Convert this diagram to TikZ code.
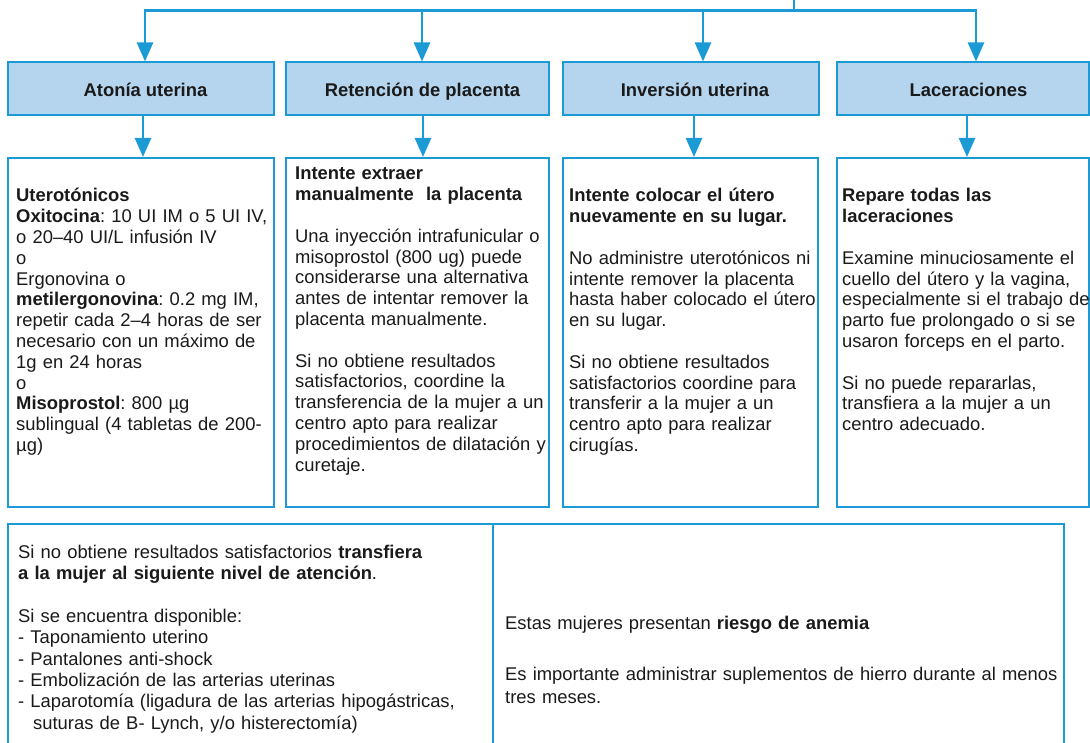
\documentclass[tikz,border=0pt]{standalone}
\usepackage{fontspec}
\setmainfont{Liberation Sans}
\usetikzlibrary{arrows.meta}
\definecolor{lineblue}{HTML}{1B9AD6}
\definecolor{fillblue}{HTML}{B5D5EF}
\definecolor{ink}{HTML}{1A1A1A}
\frenchspacing
\begin{document}
\begin{tikzpicture}[x=1pt,y=-1pt,
  conn/.style={draw=lineblue, line width=2.6pt},
  arr/.style={conn, -{Triangle[width=16pt,length=19pt]}},
  hbox/.style={draw=lineblue, fill=fillblue, line width=2pt, anchor=north west,
    minimum height=53pt, inner sep=0pt, text height=16pt, text depth=0pt,
    font=\fontsize{18.4}{20.8}\selectfont\bfseries, text=ink},
  cbox/.style={draw=lineblue, line width=2pt, anchor=north west, inner sep=0pt},
  txt/.style={anchor=base west, inner sep=0pt, align=left, text width=#1,
    font=\fontsize{18.4}{20.8}\selectfont\frenchspacing, text=ink},
]
\useasboundingbox (0,0) rectangle (1090,743);
\fill[white] (0,0) rectangle (1090,743);
\clip (0,0) rectangle (1090,743);

% header boxes
\node[hbox, minimum width=266pt] (h1) at (7,61.5) {\hspace*{9pt}Atonía uterina};
\node[hbox, minimum width=263pt] (h2) at (285,61.5) {\hspace*{10pt}Retención de placenta};
\node[hbox, minimum width=256pt] (h3) at (562,61.5) {\hspace*{8pt}Inversión uterina};
\node[hbox, minimum width=252pt] (h4) at (836,61.5) {\hspace*{11pt}Laceraciones};

% content boxes
\node[cbox, minimum width=266pt, minimum height=349pt] (c1) at (7,157) {};
\node[cbox, minimum width=263pt, minimum height=349pt] (c2) at (285,157) {};
\node[cbox, minimum width=255pt, minimum height=349pt] (c3) at (562,157) {};
\node[cbox, minimum width=252pt, minimum height=349pt] (c4) at (836,157) {};

% bottom boxes
\node[cbox, minimum width=485pt, minimum height=240pt] (d1) at (7,522.5) {};
\node[cbox, minimum width=571pt, minimum height=240pt] (d2) at (492,522.5) {};

% bus
\coordinate (src) at (794,0);
\coordinate (bus) at (794,10.5);
\coordinate (b1) at (145,10.5);
\coordinate (b2) at (422,10.5);
\coordinate (b3) at (703,10.5);
\coordinate (b4) at (976,10.5);
\draw[conn] (src) -- (bus);
\draw[conn, {Triangle[width=16pt,length=19pt]}-{Triangle[width=16pt,length=19pt]}]
  (b1 |- h1.north) -- (b1) -- (b4) -- (b4 |- h4.north);
\draw[arr] (b2) -- (b2 |- h2.north);
\draw[arr] (b3) -- (b3 |- h3.north);

% header to content
\coordinate (l1) at (143,0);
\coordinate (l2) at (423,0);
\coordinate (l3) at (694,0);
\coordinate (l4) at (967,0);
\draw[arr] (l1 |- h1.south) -- (l1 |- c1.north);
\draw[arr] (l2 |- h2.south) -- (l2 |- c2.north);
\draw[arr] (l3 |- h3.south) -- (l3 |- c3.north);
\draw[arr] (l4 |- h4.south) -- (l4 |- c4.north);

% texts
\node[txt=400pt] (t1) at (16,202) {\textbf{Uterotónicos}\\
\textbf{Oxitocina}: 10 UI IM o 5 UI IV,\\
o 20–40 UI/L infusión IV\\
o\\
Ergonovina o\\
\textbf{metilergonovina}: 0.2 mg IM,\\
repetir cada 2–4 horas de ser\\
necesario con un máximo de\\
1g en 24 horas\\
o\\
\textbf{Misoprostol}: 800 µg\\
sublingual (4 tabletas de 200-\\
µg)};

\node[txt=400pt] (t2) at (295,180) {\textbf{Intente extraer}\\
\textbf{manualmente\ \ la placenta}\\[\baselineskip]
Una inyección intrafunicular o\\
misoprostol (800 ug) puede\\
considerarse una alternativa\\
antes de intentar remover la\\
placenta manualmente.\\[\baselineskip]
Si no obtiene resultados\\
satisfactorios, coordine la\\
transferencia de la mujer a un\\
centro apto para realizar\\
procedimientos de dilatación y\\
curetaje.};

\node[txt=400pt] (t3) at (569,202) {\textbf{Intente colocar el útero}\\
\textbf{nuevamente en su lugar.}\\[\baselineskip]
No administre uterotónicos ni\\
intente remover la placenta\\
hasta haber colocado el útero\\
en su lugar.\\[\baselineskip]
Si no obtiene resultados\\
satisfactorios coordine para\\
transferir a la mujer a un\\
centro apto para realizar\\
cirugías.};

\node[txt=400pt] (t4) at (842,202) {\textbf{Repare todas las}\\
\textbf{laceraciones}\\[\baselineskip]
Examine minuciosamente el\\
cuello del útero y la vagina,\\
especialmente si el trabajo de\\
parto fue prolongado o si se\\
usaron forceps en el parto.\\[\baselineskip]
Si no puede repararlas,\\
transfiera a la mujer a un\\
centro adecuado.};

\node[txt=600pt, font=\fontsize{18.4}{21.4}\selectfont] (t5) at (18,558)
{Si no obtiene resultados satisfactorios \textbf{transfiera}\\
\textbf{a la mujer al siguiente nivel de atención}.\\[\baselineskip]
Si se encuentra disponible:\\
- Taponamiento uterino\\
- Pantalones anti-shock\\
- Embolización de las arterias uterinas\\
- Laparotomía (ligadura de las arterias hipogástricas,\\
\hspace*{15pt}suturas de B- Lynch, y/o histerectomía)};

\node[txt=600pt] (t6) at (505,629) {Estas mujeres presentan \textbf{riesgo de anemia}};
\node[txt=600pt, font=\fontsize{18.4}{23}\selectfont] (t7) at (505,680)
{Es importante administrar suplementos de hierro durante al menos\\
tres meses.};
\end{tikzpicture}
\end{document}
